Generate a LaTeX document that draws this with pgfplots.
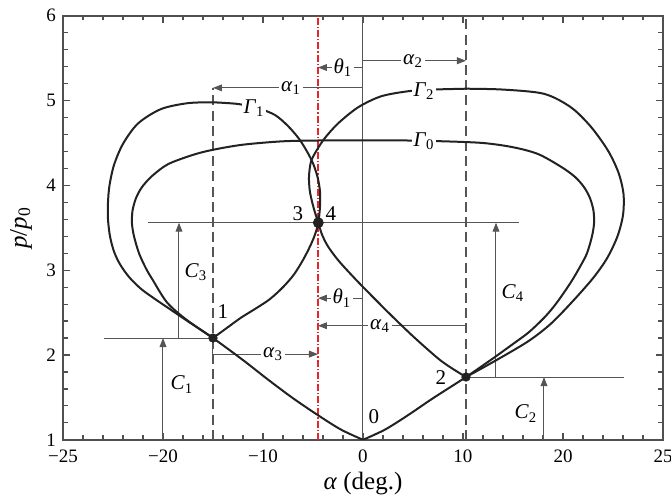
\documentclass[border=0pt]{standalone}
\usepackage{fontspec}
\setmainfont{Liberation Serif}
\usepackage{pgfplots}
\pgfplotsset{compat=1.18}
\usetikzlibrary{arrows.meta}
\definecolor{frame}{HTML}{505050}
\definecolor{thinc}{HTML}{555555}
\definecolor{curve}{HTML}{222222}
\definecolor{redl}{HTML}{E8262A}
\newcommand{\sym}[2]{\textit{#1}\textsubscript{#2}}
\tikzset{
  dim/.style={thinc, line width=0.5pt, -{Triangle[length=4.5pt,width=3.4pt]}},
  ref/.style={thinc, line width=0.5pt},
  pol/.style={curve, line width=1pt, smooth},
  lab/.style={fill=white, inner sep=1pt, font=\fontsize{10.5}{12}\selectfont},
  txt/.style={inner sep=1pt, font=\fontsize{10.5}{12}\selectfont},
}
\begin{document}
\begin{tikzpicture}
\begin{axis}[
  scale only axis, width=300pt, height=212pt,
  xmin=-30, xmax=30, ymin=1, ymax=6,
  xtick={-30,-20,-10,0,10,20,30},
  xticklabels={−25,−20,−10,0,10,20,25},
  minor xtick={-28,-26,...,28},
  ytick={1,2,3,4,5,6},
  minor ytick={1.2,1.4,...,5.8},
  tick align=inside,
  major tick length=3.5pt, minor tick length=2.3pt,
  tick style={frame, line width=0.6pt},
  axis line style={frame, line width=0.8pt},
  /pgf/number format/assume math mode=true,
  ticklabel style={font=\fontsize{9.5}{11}\selectfont},
  xticklabel style={yshift=-1.5pt},
  xlabel={\textit{α} (deg.)},
  ylabel={\textit{p}/\textit{p}\textsubscript{0}},
  label style={font=\fontsize{12.5}{14}\selectfont},
  xlabel style={at={(axis description cs:0.5,-0.103)}, anchor=center},
  ylabel style={at={(axis description cs:-0.07,0.5)}, anchor=center},
]
% reference verticals
\addplot[ref] coordinates {(0,1) (0,6)};
\addplot[thinc, line width=0.75pt, dash pattern=on 5pt off 2.6pt] coordinates {(-15,1) (-15,5.15)};
\addplot[thinc, line width=0.75pt, dash pattern=on 5pt off 2.6pt] coordinates {(10.3,1) (10.3,6)};
\addplot[redl, line width=0.55pt, dash pattern=on 3.5pt off 1pt on 0.6pt off 1pt] coordinates {(-4.5,1) (-4.5,6)};
% horizontal state lines
\addplot[ref] coordinates {(-21.5,3.56) (15.6,3.56)};
\addplot[ref] coordinates {(-25.9,2.2) (-15,2.2)};
\addplot[ref] coordinates {(10.3,1.74) (26.1,1.74)};
% dimension arrows
\addplot[dim] coordinates {(0,5.15) (-15,5.15)};
\addplot[dim] coordinates {(0,5.39) (-4.5,5.39)};
\addplot[dim] coordinates {(0,5.47) (10.3,5.47)};
\addplot[dim] coordinates {(-15,2.2) (-15,2.01) (-4.5,2.01)};
\addplot[dim] coordinates {(0,2.67) (-4.5,2.67)};
\addplot[dim] coordinates {(10.3,2.27) (10.3,2.345) (-4.5,2.345)};
\addplot[dim] coordinates {(-20,1) (-20,2.2)};
\addplot[dim] coordinates {(-18.4,2.2) (-18.4,3.56)};
\addplot[dim] coordinates {(18.1,1) (18.1,1.74)};
\addplot[dim] coordinates {(13.3,1.74) (13.3,3.56)};
\node[lab] at (axis cs:-7.2,5.15) {\sym{α}{1}};
\node[lab] at (axis cs:-2.0,5.39) {\sym{θ}{1}};
\node[lab] at (axis cs:5.0,5.47) {\sym{α}{2}};
\node[lab] at (axis cs:-9.0,2.01) {\sym{α}{3}};
\node[lab] at (axis cs:-2.1,2.67) {\sym{θ}{1}};
\node[lab] at (axis cs:1.7,2.345) {\sym{α}{4}};
% Gamma_0
\addplot[pol] coordinates {
  (0,1) (-2.2,1.12) (-4.5,1.29) (-7,1.49) (-9.5,1.71) (-12,1.94) (-15,2.2)
  (-17.7,2.42) (-19.6,2.62) (-21.0,2.88) (-21.7,3.02) (-22.4,3.20) (-22.9,3.40)
  (-23.1,3.55) (-23.05,3.70) (-22.7,3.85) (-22.1,3.98) (-21.1,4.11) (-19.5,4.25)
  (-17,4.36) (-15,4.42) (-12,4.48) (-8,4.52) (-4,4.53) (0,4.53)
};
\addplot[pol] coordinates {
  (0,1) (2.2,1.12) (4.5,1.29) (7,1.49) (10.3,1.74) (13,1.96) (15,2.13) (16.6,2.27)
  (18.2,2.45) (19.4,2.62) (20.8,2.86) (21.7,3.04) (22.4,3.20) (22.9,3.40) (23.1,3.55)
  (23.05,3.70) (22.7,3.85) (22.1,3.98) (21.2,4.10) (19.8,4.22) (17.5,4.37) (15,4.45)
  (12,4.50) (8,4.52) (4,4.53) (0,4.53)
};
% Gamma_1
\addplot[pol] coordinates {
  (-15,2.2) (-16.4,2.31) (-17.8,2.42) (-19.3,2.54) (-20.8,2.66) (-22.2,2.78) (-23.4,2.92)
  (-24.3,3.07) (-24.9,3.22) (-25.3,3.40) (-25.5,3.60) (-25.5,3.80) (-25.35,4.00)
  (-24.9,4.24) (-24.0,4.49) (-22.5,4.73) (-20.2,4.90) (-17.5,4.97) (-15,4.98)
};
\addplot[pol] coordinates {
  (-15,4.98) (-12.5,4.96) (-10.5,4.91) (-8.8,4.83) (-7.5,4.70) (-6.4,4.55) (-5.6,4.40)
  (-5.0,4.26) (-4.55,4.10) (-4.3,3.93) (-4.3,3.75) (-4.47,3.56) (-4.8,3.42) (-5.3,3.28)
  (-6.0,3.12) (-6.9,2.95) (-8.0,2.80) (-9.3,2.66) (-10.7,2.55) (-12.2,2.44) (-13.6,2.32) (-15,2.2)
};
% Gamma_2
\addplot[pol] coordinates {
  (10.3,1.74) (8.8,1.85) (7.5,1.96) (5.1,2.21) (2.8,2.47) (0.1,2.79) (-1.2,2.95)
  (-2.5,3.12) (-3.5,3.28) (-4.1,3.42) (-4.47,3.56) (-4.9,3.72) (-5.3,3.92) (-5.4,4.10)
  (-5.2,4.28) (-4.6,4.42) (-3.8,4.56) (-2.5,4.73) (-0.5,4.92) (1.8,5.05) (4.5,5.11)
  (7,5.13) (10.3,5.14)
};
\addplot[pol] coordinates {
  (10.3,5.14) (14,5.13) (18.1,5.08) (20.8,4.92) (22.8,4.69) (24.5,4.41) (25.55,4.15)
  (26.05,3.90) (26.0,3.65) (25.45,3.40) (24.45,3.15) (23.1,2.92) (21.1,2.65) (18.8,2.37)
  (16.5,2.16) (13.2,1.93) (10.3,1.74)
};
\node[lab] at (axis cs:-10.9,4.91) {\sym{Γ}{1}};
\node[lab] at (axis cs:6.1,5.11) {\sym{Γ}{2}};
\node[lab] at (axis cs:6.1,4.52) {\sym{Γ}{0}};
% states
\addplot[only marks, mark=*, mark size=2.1pt, curve] coordinates {(-15,2.2) (10.3,1.74)};
\addplot[only marks, mark=*, mark size=2.5pt, curve] coordinates {(-4.47,3.56)};
\node[txt] at (axis cs:1.1,1.27) {0};
\node[txt] at (axis cs:-14.0,2.51) {1};
\node[txt] at (axis cs:7.8,1.73) {2};
\node[txt] at (axis cs:-6.5,3.67) {3};
\node[txt] at (axis cs:-3.2,3.67) {4};
\node[txt] at (axis cs:-18.1,1.65) {\sym{C}{1}};
\node[txt] at (axis cs:16.3,1.31) {\sym{C}{2}};
\node[txt] at (axis cs:-16.7,2.98) {\sym{C}{3}};
\node[txt] at (axis cs:15.0,2.73) {\sym{C}{4}};
\coordinate (sw) at (rel axis cs:0,0);
\coordinate (ne) at (rel axis cs:1,1);
\end{axis}
\pgfresetboundingbox
\path[use as bounding box] ([shift={(-31.5pt,-28pt)}]sw) rectangle ([shift={(4pt,7.9pt)}]ne);
\end{tikzpicture}
\end{document}
